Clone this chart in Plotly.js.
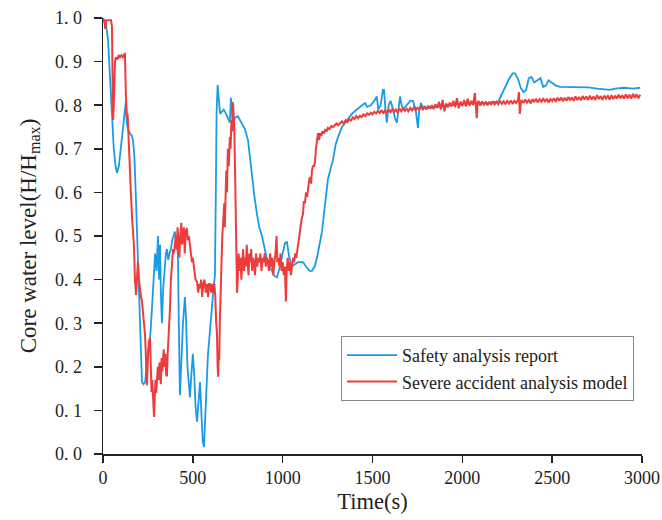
<!DOCTYPE html>
<html>
<head>
<meta charset="utf-8">
<script src="https://cdn.plot.ly/plotly-3.0.1.min.js"></script>
<style>html,body{margin:0;padding:0;background:#fff;}#chart{width:662px;height:520px;}</style>
</head>
<body>
<div id="chart"></div>
<script>
// Safety analysis report
var safetyTime = [0,15,28,40,50,60,70,78,88,100,112,122,128,132,140,150,160,167,175,182,189,197,205,212,217,225,235,245,255,262,272,282,290,298,306,312,318,322,328,335,342,350,356,363,370,378,385,393,400,410,417,422,428,435,445,456,462,470,478,484,490,500,508,515,523,530,540,548,555,562,570,578,584,595,606,615,623,628,632,638,645,652,662,672,685,695,706,712,718,724,733,750,770,790,807,818,829,843,857,870,885,900,913,930,950,968,985,1000,1013,1024,1035,1050,1070,1085,1100,1113,1130,1150,1163,1178,1191,1205,1219,1235,1252,1270,1280,1295,1308,1330,1358,1385,1413,1440,1458,1470,1490,1510,1524,1532,1545,1558,1564,1572,1580,1590,1600,1615,1625,1636,1645,1653,1662,1670,1690,1710,1725,1740,1753,1760,1770,1780,1800,1850,1900,1950,2000,2050,2100,2150,2200,2230,2260,2280,2293,2310,2325,2340,2355,2370,2385,2400,2420,2435,2450,2465,2480,2500,2520,2545,2600,2650,2700,2750,2800,2821,2850,2900,2950,2990];
var safetyLevel = [1.0,0.99,0.95,0.85,0.77,0.70,0.66,0.645,0.66,0.70,0.75,0.79,0.81,0.76,0.745,0.735,0.73,0.72,0.68,0.60,0.51,0.40,0.30,0.20,0.165,0.16,0.165,0.22,0.25,0.265,0.33,0.40,0.46,0.42,0.50,0.40,0.48,0.37,0.30,0.38,0.42,0.46,0.47,0.445,0.46,0.47,0.49,0.50,0.51,0.48,0.456,0.30,0.135,0.20,0.30,0.36,0.31,0.20,0.15,0.13,0.17,0.23,0.18,0.11,0.074,0.12,0.165,0.09,0.03,0.016,0.08,0.17,0.227,0.29,0.335,0.38,0.41,0.60,0.78,0.846,0.82,0.78,0.785,0.79,0.78,0.77,0.76,0.817,0.78,0.755,0.77,0.775,0.76,0.745,0.72,0.68,0.635,0.59,0.55,0.52,0.50,0.47,0.445,0.43,0.41,0.405,0.43,0.46,0.484,0.486,0.455,0.43,0.435,0.44,0.44,0.44,0.43,0.42,0.42,0.43,0.45,0.48,0.51,0.57,0.63,0.66,0.674,0.71,0.727,0.75,0.766,0.78,0.79,0.80,0.805,0.796,0.80,0.81,0.82,0.79,0.80,0.835,0.835,0.79,0.76,0.80,0.81,0.79,0.77,0.76,0.80,0.82,0.80,0.79,0.80,0.81,0.81,0.79,0.748,0.79,0.805,0.795,0.793,0.796,0.799,0.801,0.803,0.804,0.804,0.806,0.808,0.835,0.86,0.873,0.873,0.86,0.84,0.83,0.835,0.862,0.865,0.852,0.857,0.862,0.842,0.845,0.857,0.852,0.845,0.842,0.842,0.842,0.841,0.838,0.836,0.835,0.838,0.84,0.838,0.84];

// Severe accident analysis model
var modelTime = [0,8,12,18,30,45,50,53,56,60,64,67,72,80,88,95,103,111,118,122,127,130,133,137,142,148,155,162,167,172,178,184,190,195,200,206,212,217,222,228,234,240,245,250,256,262,266,270,274,280,284,288,292,296,300,305,310,314,317,322,326,330,334,338,342,347,352,356,360,364,368,373,378,384,390,395,400,405,410,415,420,425,430,436,440,445,450,455,460,467,472,478,484,490,495,500,508,515,523,530,535,540,546,552,558,565,572,578,585,590,595,602,608,615,620,625,630,634,638,641,644,647,650,654,658,664,670,675,678,682,686,690,695,700,706,710,715,719,723,727,731,735,739,743,746,750,755,760,765,770,775,780,785,790,795,800,805,810,815,820,825,830,835,840,846,852,858,864,870,876,882,888,894,900,906,912,918,924,930,936,942,948,954,960,966,970,976,982,988,994,1000,1006,1012,1018,1022,1028,1034,1040,1046,1052,1058,1064,1070,1076,1082,1088,1094,1100,1106,1113,1118,1124,1130,1136,1142,1148,1152,1158,1163,1168,1174,1180,1185,1190,1197,1203,1208,1215,1222,1230,1238,1245,1252,1260,1270,1280,1290,1300,1310,1320,1330,1340,1350,1360,1370,1380,1390,1400,1410,1420,1430,1440,1450,1460,1470,1480,1490,1500,1510,1520,1530,1540,1550,1560,1570,1580,1590,1600,1610,1620,1630,1640,1650,1660,1670,1680,1690,1700,1710,1720,1730,1740,1750,1760,1770,1780,1790,1800,1810,1820,1830,1840,1850,1860,1870,1880,1890,1900,1910,1920,1930,1940,1950,1960,1970,1980,1990,2000,2010,2020,2030,2040,2050,2060,2070,2075,2080,2085,2090,2100,2110,2120,2130,2140,2150,2160,2170,2180,2190,2200,2210,2220,2230,2240,2250,2260,2270,2280,2290,2300,2310,2315,2320,2325,2330,2340,2350,2360,2370,2380,2390,2400,2410,2420,2430,2440,2450,2460,2470,2480,2490,2500,2510,2520,2530,2540,2550,2560,2570,2580,2590,2600,2610,2620,2630,2640,2650,2660,2670,2680,2690,2700,2710,2720,2730,2740,2750,2760,2770,2780,2790,2800,2810,2820,2830,2840,2850,2860,2870,2880,2890,2900,2910,2920,2930,2940,2950,2960,2970,2980,2990];
var modelLevel = [0.99,0.995,0.975,0.995,0.995,0.995,0.98,0.85,0.766,0.80,0.88,0.90,0.91,0.905,0.915,0.91,0.915,0.91,0.915,0.92,0.83,0.805,0.77,0.78,0.72,0.68,0.60,0.54,0.507,0.48,0.40,0.365,0.41,0.44,0.40,0.37,0.36,0.35,0.33,0.30,0.273,0.21,0.158,0.22,0.26,0.266,0.20,0.142,0.17,0.10,0.085,0.13,0.17,0.14,0.165,0.20,0.17,0.21,0.204,0.16,0.22,0.19,0.22,0.24,0.20,0.23,0.18,0.18,0.23,0.257,0.30,0.335,0.40,0.45,0.47,0.46,0.48,0.50,0.47,0.52,0.49,0.45,0.50,0.53,0.48,0.495,0.52,0.46,0.51,0.518,0.49,0.50,0.48,0.47,0.44,0.45,0.42,0.40,0.395,0.37,0.39,0.38,0.40,0.36,0.39,0.40,0.37,0.39,0.36,0.39,0.39,0.37,0.39,0.37,0.39,0.36,0.30,0.28,0.20,0.177,0.22,0.215,0.30,0.37,0.43,0.50,0.54,0.575,0.52,0.62,0.65,0.60,0.70,0.66,0.727,0.70,0.766,0.74,0.807,0.78,0.743,0.65,0.52,0.43,0.37,0.40,0.46,0.42,0.45,0.40,0.44,0.47,0.42,0.45,0.43,0.48,0.44,0.41,0.46,0.44,0.47,0.42,0.45,0.44,0.41,0.46,0.43,0.45,0.44,0.46,0.42,0.45,0.44,0.46,0.43,0.45,0.44,0.42,0.46,0.43,0.45,0.41,0.44,0.46,0.50,0.44,0.45,0.43,0.46,0.42,0.44,0.41,0.43,0.35,0.42,0.45,0.42,0.44,0.41,0.43,0.45,0.44,0.46,0.45,0.47,0.49,0.51,0.52,0.54,0.55,0.58,0.575,0.60,0.59,0.62,0.63,0.635,0.62,0.65,0.66,0.66,0.67,0.70,0.72,0.736,0.72,0.736,0.73,0.74,0.735,0.745,0.74,0.748,0.745,0.752,0.75,0.755,0.758,0.754,0.76,0.763,0.758,0.765,0.761,0.768,0.765,0.772,0.768,0.775,0.77,0.776,0.773,0.779,0.775,0.781,0.778,0.783,0.779,0.785,0.781,0.787,0.782,0.789,0.781,0.788,0.783,0.79,0.784,0.791,0.785,0.79,0.783,0.792,0.786,0.793,0.787,0.792,0.786,0.794,0.788,0.795,0.789,0.794,0.79,0.797,0.789,0.798,0.79,0.799,0.792,0.8,0.791,0.802,0.794,0.808,0.79,0.812,0.786,0.804,0.795,0.806,0.797,0.81,0.796,0.816,0.793,0.808,0.798,0.812,0.797,0.815,0.799,0.81,0.8,0.828,0.8,0.77,0.805,0.81,0.799,0.809,0.801,0.807,0.8,0.808,0.801,0.809,0.802,0.808,0.802,0.81,0.803,0.809,0.802,0.81,0.804,0.811,0.803,0.81,0.805,0.812,0.83,0.78,0.806,0.812,0.805,0.813,0.806,0.812,0.804,0.814,0.807,0.815,0.806,0.814,0.808,0.816,0.807,0.815,0.806,0.814,0.809,0.816,0.808,0.817,0.81,0.818,0.809,0.817,0.81,0.819,0.811,0.818,0.81,0.82,0.812,0.819,0.811,0.821,0.813,0.82,0.812,0.822,0.813,0.82,0.812,0.823,0.814,0.821,0.812,0.822,0.815,0.821,0.813,0.823,0.814,0.822,0.815,0.824,0.816,0.823,0.815,0.825,0.816,0.824,0.815,0.826,0.817,0.825,0.816,0.824];

var yTickVals = [0,0.1,0.2,0.3,0.4,0.5,0.6,0.7,0.8,0.9,1.0];
var yTickText = ['0. 0','0. 1','0. 2','0. 3','0. 4','0. 5','0. 6','0. 7','0. 8','0. 9','1. 0'];
var xTickVals = [0,500,1000,1500,2000,2500,3000];

var serif = '"Liberation Serif", "Times New Roman", serif';

var traces = [
  {x: safetyTime, y: safetyLevel, type: 'scatter', mode: 'lines', name: 'Safety analysis report',
   line: {color: '#1a9be6', width: 1.8}},
  {x: modelTime, y: modelLevel, type: 'scatter', mode: 'lines', name: 'Severe accident analysis model',
   line: {color: '#ee3c3c', width: 2}}
];

var layout = {
  width: 662, height: 520,
  margin: {l: 103, r: 20, t: 18, b: 66},
  paper_bgcolor: '#fff', plot_bgcolor: '#fff',
  font: {family: serif, color: '#222', size: 17},
  showlegend: true,
  legend: {x: 0.4416, y: 0.2706, xanchor: 'left', yanchor: 'top',
    bordercolor: '#888', borderwidth: 1, bgcolor: '#fff',
    font: {family: serif, size: 18, color: '#222'}, itemwidth: 50, tracegroupgap: 0},
  xaxis: {range: [0, 3000], tickvals: xTickVals, ticks: 'outside', ticklen: 7, tickwidth: 1.5,
    tickcolor: '#222', showline: true, linecolor: '#222', linewidth: 1.5, showgrid: false, zeroline: false,
    tickfont: {family: serif, size: 18, color: '#222'},
    title: {text: 'Time(s)', font: {family: serif, size: 22.5, color: '#222'}, standoff: 6}},
  yaxis: {range: [0, 1.0], tickvals: yTickVals, ticktext: yTickText, ticks: 'outside', ticklen: 8, tickwidth: 1.5,
    tickcolor: '#222', showline: true, linecolor: '#222', linewidth: 1.5, showgrid: false, zeroline: false,
    ticklabelstandoff: 8,
    tickfont: {family: serif, size: 18, color: '#222'},
    title: {text: 'Core water level(H/H<sub>max</sub>)', font: {family: serif, size: 23, color: '#222'}, standoff: 12}}
};

Plotly.newPlot('chart', traces, layout, {displayModeBar: false, staticPlot: true});
</script>
</body>
</html>
